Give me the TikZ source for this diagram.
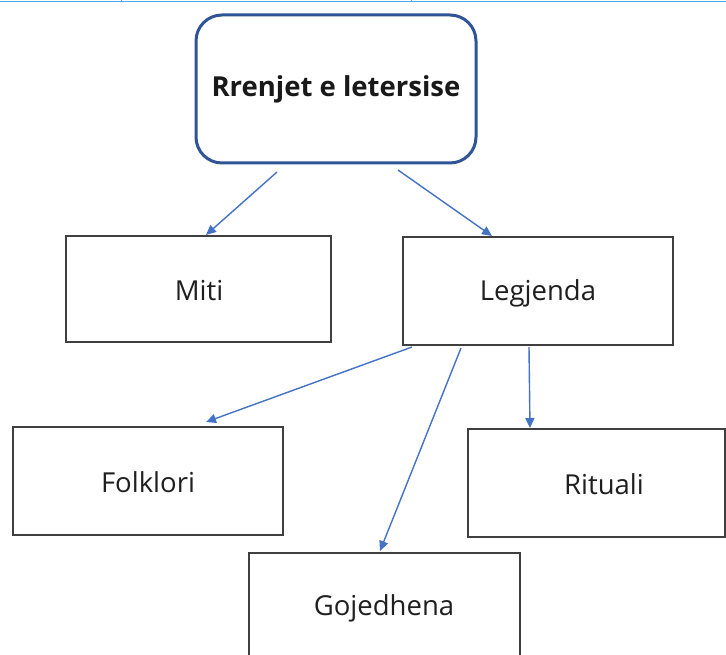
\documentclass[tikz,border=0pt]{standalone}
\usepackage{fontspec}
\setmainfont{Open Sans}
\usetikzlibrary{arrows.meta}
\definecolor{rootblue}{HTML}{2F5597}
\definecolor{arrblue}{HTML}{4472C4}
\definecolor{boxgray}{HTML}{3F3F3F}
\definecolor{topline}{HTML}{4AA8E8}
\begin{document}
\begin{tikzpicture}[x=1pt,y=-1pt,
  rootbox/.style={draw=rootblue, line width=3pt, rounded corners=26pt, fill=white},
  leaf/.style={draw=boxgray, line width=1.2pt, fill=white},
  lbl/.style={font=\fontsize{27.5}{32}\selectfont, text=black!88},
  conn/.style={draw=arrblue, line width=1.4pt, -{Triangle[length=10pt,width=9pt]}}]
\useasboundingbox (0,0) rectangle (726,655);
\fill[white] (0,0) rectangle (726,655);
% top rule
\draw[topline, line width=1.6pt] (0,1.5) -- (726,1.5);
\draw[topline, line width=1pt] (121,0) -- (121,2.5) (411,0) -- (411,2.5);
% boxes
\draw[rootbox] (196,15) rectangle (476,163);
\node[font=\fontsize{27.5}{32}\selectfont\bfseries, text=black!90] (root) at (336,89) {Rrenjet e letersise};
\draw[leaf] (66,236) rectangle (331,342);
\node[lbl] (miti) at (199,291) {Miti};
\draw[leaf] (403,237) rectangle (673,345);
\node[lbl] (leg) at (538,293) {Legjenda};
\draw[leaf] (13,427) rectangle (283,535);
\node[lbl] (folk) at (148,482) {Folklori};
\draw[leaf] (468,429) rectangle (725,537);
\node[lbl] (rit) at (604,484) {Rituali};
\draw[leaf] (249,553) rectangle (520,665);
\node[lbl] (goj) at (384,608) {Gojedhena};
% connectors
\coordinate (a1) at (277,172); \coordinate (b1) at (206,235);
\coordinate (a2) at (398,170); \coordinate (b2) at (492,236);
\coordinate (a3) at (412,347); \coordinate (b3) at (206,422);
\coordinate (a4) at (461,348); \coordinate (b4) at (380,551);
\coordinate (a5) at (529,347); \coordinate (b5) at (530,428);
\draw[conn] (a1) -- (b1);
\draw[conn] (a2) -- (b2);
\draw[conn] (a3) -- (b3);
\draw[conn] (a4) -- (b4);
\draw[conn] (a5) -- (b5);
\end{tikzpicture}
\end{document}
